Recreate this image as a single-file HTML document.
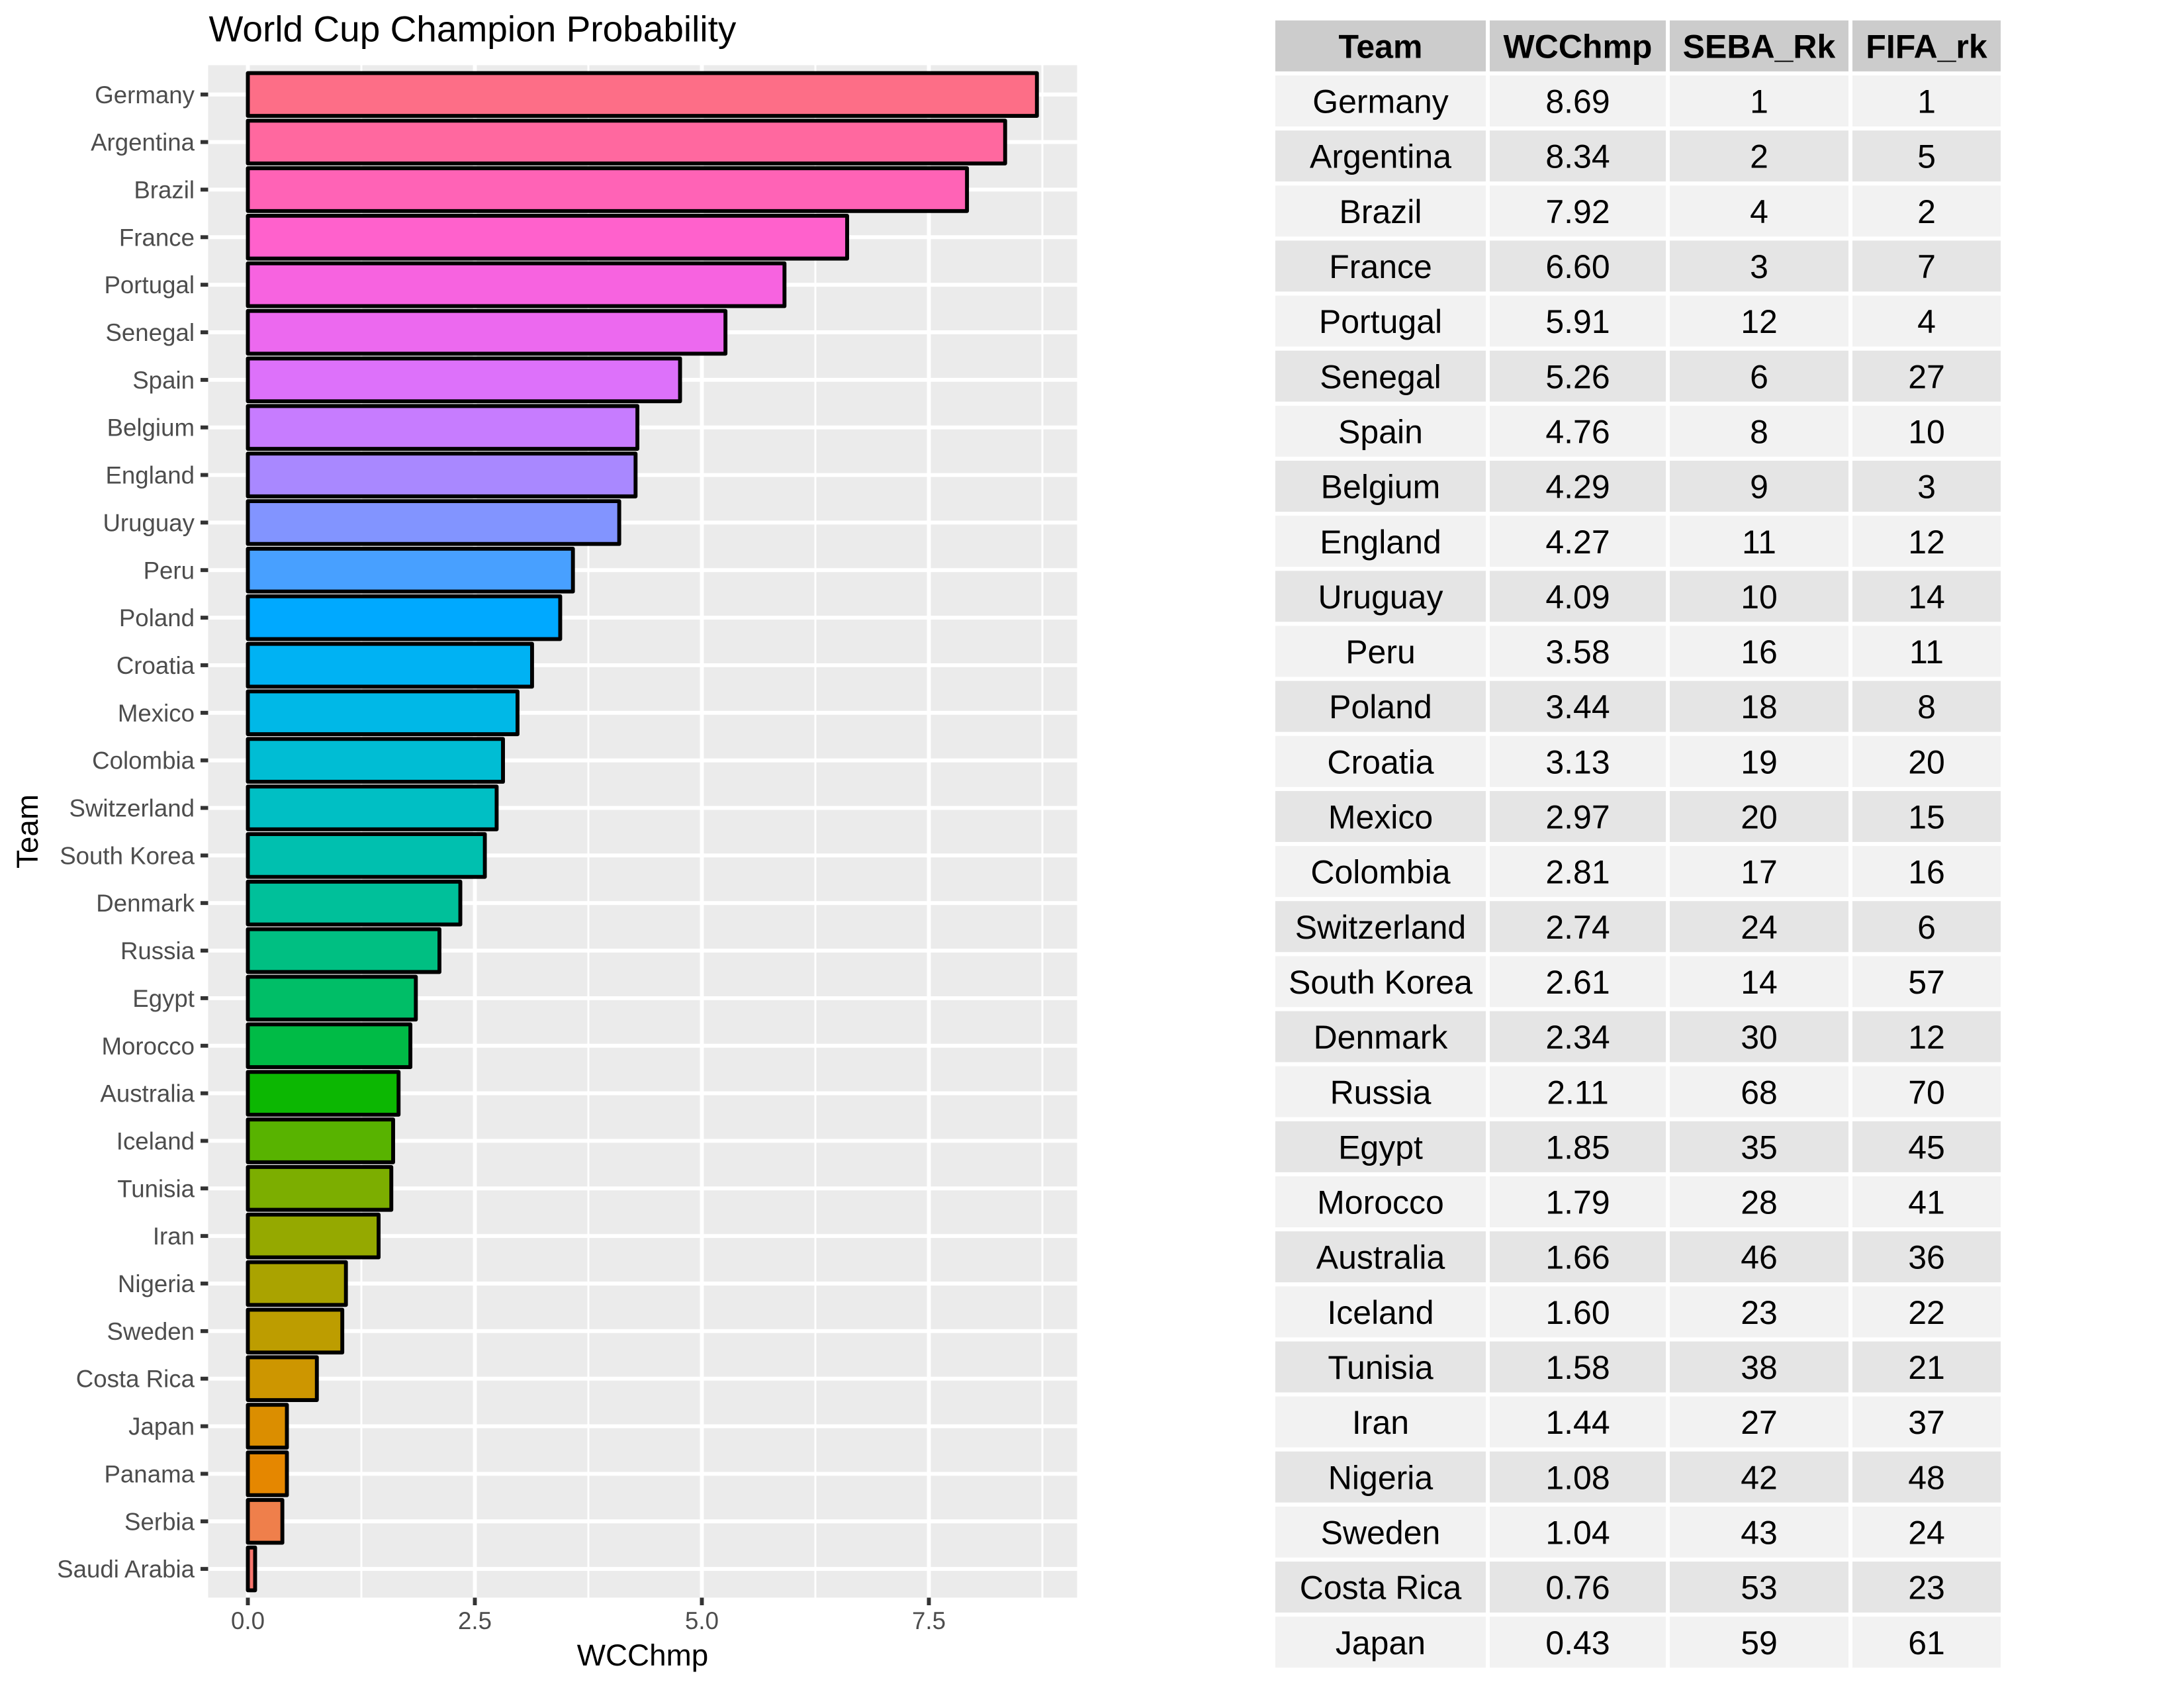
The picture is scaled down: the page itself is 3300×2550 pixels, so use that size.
<!DOCTYPE html>
<html>
<head>
<meta charset="utf-8">
<style>
html,body{margin:0;padding:0;background:#fff;}
svg{display:block;}
text{font-family:"Liberation Sans",Arial,Helvetica,sans-serif;}
</style>
</head>
<body>
<svg xmlns="http://www.w3.org/2000/svg" width="3300" height="2550" viewBox="0 0 3300 2550">
<rect x="0" y="0" width="3300" height="2550" fill="#ffffff"/>

<!-- Title -->
<text x="315.5" y="62.7" font-size="55" fill="#000">World Cup Champion Probability</text>

<!-- Panel -->
<rect x="314.5" y="98.5" width="1313" height="2315" fill="#EBEBEB"/>

<!-- minor vertical gridlines -->
<g stroke="#ffffff" stroke-width="3">
<line x1="546" y1="98.5" x2="546" y2="2413.5"/>
<line x1="889" y1="98.5" x2="889" y2="2413.5"/>
<line x1="1232" y1="98.5" x2="1232" y2="2413.5"/>
<line x1="1575" y1="98.5" x2="1575" y2="2413.5"/>
</g>
<!-- major vertical gridlines -->
<g stroke="#ffffff" stroke-width="5.9">
<line x1="374.5" y1="98.5" x2="374.5" y2="2413.5"/>
<line x1="717.5" y1="98.5" x2="717.5" y2="2413.5"/>
<line x1="1060.5" y1="98.5" x2="1060.5" y2="2413.5"/>
<line x1="1403.5" y1="98.5" x2="1403.5" y2="2413.5"/>
</g>

<!-- horizontal major gridlines -->
<g stroke="#ffffff" stroke-width="5.9">
<line x1="314.5" x2="1627.5" y1="142.75" y2="142.75"/>
<line x1="314.5" x2="1627.5" y1="214.60" y2="214.60"/>
<line x1="314.5" x2="1627.5" y1="286.45" y2="286.45"/>
<line x1="314.5" x2="1627.5" y1="358.30" y2="358.30"/>
<line x1="314.5" x2="1627.5" y1="430.15" y2="430.15"/>
<line x1="314.5" x2="1627.5" y1="502.00" y2="502.00"/>
<line x1="314.5" x2="1627.5" y1="573.85" y2="573.85"/>
<line x1="314.5" x2="1627.5" y1="645.70" y2="645.70"/>
<line x1="314.5" x2="1627.5" y1="717.55" y2="717.55"/>
<line x1="314.5" x2="1627.5" y1="789.40" y2="789.40"/>
<line x1="314.5" x2="1627.5" y1="861.25" y2="861.25"/>
<line x1="314.5" x2="1627.5" y1="933.10" y2="933.10"/>
<line x1="314.5" x2="1627.5" y1="1004.95" y2="1004.95"/>
<line x1="314.5" x2="1627.5" y1="1076.80" y2="1076.80"/>
<line x1="314.5" x2="1627.5" y1="1148.65" y2="1148.65"/>
<line x1="314.5" x2="1627.5" y1="1220.50" y2="1220.50"/>
<line x1="314.5" x2="1627.5" y1="1292.35" y2="1292.35"/>
<line x1="314.5" x2="1627.5" y1="1364.20" y2="1364.20"/>
<line x1="314.5" x2="1627.5" y1="1436.05" y2="1436.05"/>
<line x1="314.5" x2="1627.5" y1="1507.90" y2="1507.90"/>
<line x1="314.5" x2="1627.5" y1="1579.75" y2="1579.75"/>
<line x1="314.5" x2="1627.5" y1="1651.60" y2="1651.60"/>
<line x1="314.5" x2="1627.5" y1="1723.45" y2="1723.45"/>
<line x1="314.5" x2="1627.5" y1="1795.30" y2="1795.30"/>
<line x1="314.5" x2="1627.5" y1="1867.15" y2="1867.15"/>
<line x1="314.5" x2="1627.5" y1="1939.00" y2="1939.00"/>
<line x1="314.5" x2="1627.5" y1="2010.85" y2="2010.85"/>
<line x1="314.5" x2="1627.5" y1="2082.70" y2="2082.70"/>
<line x1="314.5" x2="1627.5" y1="2154.55" y2="2154.55"/>
<line x1="314.5" x2="1627.5" y1="2226.40" y2="2226.40"/>
<line x1="314.5" x2="1627.5" y1="2298.25" y2="2298.25"/>
<line x1="314.5" x2="1627.5" y1="2370.10" y2="2370.10"/>
</g>

<!-- Bars -->
<g stroke="#000" stroke-width="5.9" stroke-linejoin="round">
<rect x="374.5" y="110.42" width="1192.27" height="64.66" fill="#FD6E87"/>
<rect x="374.5" y="182.27" width="1144.25" height="64.66" fill="#FF689F"/>
<rect x="374.5" y="254.12" width="1086.62" height="64.66" fill="#FF63B6"/>
<rect x="374.5" y="325.97" width="905.52" height="64.66" fill="#FF61CC"/>
<rect x="374.5" y="397.82" width="810.85" height="64.66" fill="#F763E0"/>
<rect x="374.5" y="469.67" width="721.67" height="64.66" fill="#EC69EF"/>
<rect x="374.5" y="541.52" width="653.07" height="64.66" fill="#DD71FA"/>
<rect x="374.5" y="613.37" width="588.59" height="64.66" fill="#C77CFF"/>
<rect x="374.5" y="685.22" width="585.84" height="64.66" fill="#A988FF"/>
<rect x="374.5" y="757.07" width="561.15" height="64.66" fill="#8294FF"/>
<rect x="374.5" y="828.92" width="491.18" height="64.66" fill="#48A0FF"/>
<rect x="374.5" y="900.77" width="471.97" height="64.66" fill="#00A9FF"/>
<rect x="374.5" y="972.62" width="429.44" height="64.66" fill="#00B2F3"/>
<rect x="374.5" y="1044.47" width="407.48" height="64.66" fill="#00B8E7"/>
<rect x="374.5" y="1116.32" width="385.53" height="64.66" fill="#00BDD4"/>
<rect x="374.5" y="1188.17" width="375.93" height="64.66" fill="#00BFC4"/>
<rect x="374.5" y="1260.02" width="358.09" height="64.66" fill="#00C0AF"/>
<rect x="374.5" y="1331.87" width="321.05" height="64.66" fill="#00C09A"/>
<rect x="374.5" y="1403.72" width="289.49" height="64.66" fill="#00BF82"/>
<rect x="374.5" y="1475.57" width="253.82" height="64.66" fill="#00BE67"/>
<rect x="374.5" y="1547.42" width="245.59" height="64.66" fill="#00BB46"/>
<rect x="374.5" y="1619.27" width="227.75" height="64.66" fill="#0CB702"/>
<rect x="374.5" y="1691.12" width="219.52" height="64.66" fill="#58B300"/>
<rect x="374.5" y="1762.97" width="216.78" height="64.66" fill="#7CAE00"/>
<rect x="374.5" y="1834.82" width="197.57" height="64.66" fill="#95A900"/>
<rect x="374.5" y="1906.67" width="148.18" height="64.66" fill="#AAA300"/>
<rect x="374.5" y="1978.52" width="142.69" height="64.66" fill="#BD9D00"/>
<rect x="374.5" y="2050.37" width="104.27" height="64.66" fill="#CD9600"/>
<rect x="374.5" y="2122.22" width="59.00" height="64.66" fill="#DB8E00"/>
<rect x="374.5" y="2194.07" width="59.00" height="64.66" fill="#E58700"/>
<rect x="374.5" y="2265.92" width="52.14" height="64.66" fill="#EF7F4B"/>
<rect x="374.5" y="2337.77" width="10.98" height="64.66" fill="#F8766D"/>
</g>

<!-- Y ticks -->
<g stroke="#333333" stroke-width="5.9">
<line x1="303" x2="314.5" y1="142.75" y2="142.75"/>
<line x1="303" x2="314.5" y1="214.60" y2="214.60"/>
<line x1="303" x2="314.5" y1="286.45" y2="286.45"/>
<line x1="303" x2="314.5" y1="358.30" y2="358.30"/>
<line x1="303" x2="314.5" y1="430.15" y2="430.15"/>
<line x1="303" x2="314.5" y1="502.00" y2="502.00"/>
<line x1="303" x2="314.5" y1="573.85" y2="573.85"/>
<line x1="303" x2="314.5" y1="645.70" y2="645.70"/>
<line x1="303" x2="314.5" y1="717.55" y2="717.55"/>
<line x1="303" x2="314.5" y1="789.40" y2="789.40"/>
<line x1="303" x2="314.5" y1="861.25" y2="861.25"/>
<line x1="303" x2="314.5" y1="933.10" y2="933.10"/>
<line x1="303" x2="314.5" y1="1004.95" y2="1004.95"/>
<line x1="303" x2="314.5" y1="1076.80" y2="1076.80"/>
<line x1="303" x2="314.5" y1="1148.65" y2="1148.65"/>
<line x1="303" x2="314.5" y1="1220.50" y2="1220.50"/>
<line x1="303" x2="314.5" y1="1292.35" y2="1292.35"/>
<line x1="303" x2="314.5" y1="1364.20" y2="1364.20"/>
<line x1="303" x2="314.5" y1="1436.05" y2="1436.05"/>
<line x1="303" x2="314.5" y1="1507.90" y2="1507.90"/>
<line x1="303" x2="314.5" y1="1579.75" y2="1579.75"/>
<line x1="303" x2="314.5" y1="1651.60" y2="1651.60"/>
<line x1="303" x2="314.5" y1="1723.45" y2="1723.45"/>
<line x1="303" x2="314.5" y1="1795.30" y2="1795.30"/>
<line x1="303" x2="314.5" y1="1867.15" y2="1867.15"/>
<line x1="303" x2="314.5" y1="1939.00" y2="1939.00"/>
<line x1="303" x2="314.5" y1="2010.85" y2="2010.85"/>
<line x1="303" x2="314.5" y1="2082.70" y2="2082.70"/>
<line x1="303" x2="314.5" y1="2154.55" y2="2154.55"/>
<line x1="303" x2="314.5" y1="2226.40" y2="2226.40"/>
<line x1="303" x2="314.5" y1="2298.25" y2="2298.25"/>
<line x1="303" x2="314.5" y1="2370.10" y2="2370.10"/>
</g>
<!-- X ticks -->
<g stroke="#333333" stroke-width="5.9">
<line x1="374.5" x2="374.5" y1="2413.5" y2="2425"/>
<line x1="717.5" x2="717.5" y1="2413.5" y2="2425"/>
<line x1="1060.5" x2="1060.5" y1="2413.5" y2="2425"/>
<line x1="1403.5" x2="1403.5" y1="2413.5" y2="2425"/>
</g>

<!-- Y labels -->
<g font-size="36.67" fill="#4D4D4D" text-anchor="end">
<text x="294" y="155.75">Germany</text>
<text x="294" y="227.60">Argentina</text>
<text x="294" y="299.45">Brazil</text>
<text x="294" y="371.30">France</text>
<text x="294" y="443.15">Portugal</text>
<text x="294" y="515.00">Senegal</text>
<text x="294" y="586.85">Spain</text>
<text x="294" y="658.70">Belgium</text>
<text x="294" y="730.55">England</text>
<text x="294" y="802.40">Uruguay</text>
<text x="294" y="874.25">Peru</text>
<text x="294" y="946.10">Poland</text>
<text x="294" y="1017.95">Croatia</text>
<text x="294" y="1089.80">Mexico</text>
<text x="294" y="1161.65">Colombia</text>
<text x="294" y="1233.50">Switzerland</text>
<text x="294" y="1305.35">South Korea</text>
<text x="294" y="1377.20">Denmark</text>
<text x="294" y="1449.05">Russia</text>
<text x="294" y="1520.90">Egypt</text>
<text x="294" y="1592.75">Morocco</text>
<text x="294" y="1664.60">Australia</text>
<text x="294" y="1736.45">Iceland</text>
<text x="294" y="1808.30">Tunisia</text>
<text x="294" y="1880.15">Iran</text>
<text x="294" y="1952.00">Nigeria</text>
<text x="294" y="2023.85">Sweden</text>
<text x="294" y="2095.70">Costa Rica</text>
<text x="294" y="2167.55">Japan</text>
<text x="294" y="2239.40">Panama</text>
<text x="294" y="2311.25">Serbia</text>
<text x="294" y="2383.10">Saudi Arabia</text>
</g>

<!-- X labels -->
<g font-size="36.67" fill="#4D4D4D" text-anchor="middle">
<text x="374.5" y="2461">0.0</text>
<text x="717.5" y="2461">2.5</text>
<text x="1060.5" y="2461">5.0</text>
<text x="1403.5" y="2461">7.5</text>
</g>

<!-- Axis titles -->
<text x="971" y="2516" font-size="45.83" fill="#000" text-anchor="middle">WCChmp</text>
<text transform="translate(57,1256) rotate(-90)" font-size="45.83" fill="#000" text-anchor="middle">Team</text>

<!-- Table -->
<g font-size="50" fill="#000" text-anchor="middle">
<g transform="translate(0,30.85)"><rect x="1927" y="0" width="318" height="77" fill="#CCCCCC"/><rect x="2251" y="0" width="266" height="77" fill="#CCCCCC"/><rect x="2523" y="0" width="270" height="77" fill="#CCCCCC"/><rect x="2799" y="0" width="224" height="77" fill="#CCCCCC"/><g font-weight="bold"><text x="2086" y="56.6">Team</text><text x="2384" y="56.6">WCChmp</text><text x="2658" y="56.6">SEBA_Rk</text><text x="2911" y="56.6">FIFA_rk</text></g></g>
<g transform="translate(0,114.00)"><rect x="1927" y="0" width="318" height="77" fill="#F2F2F2"/><rect x="2251" y="0" width="266" height="77" fill="#F2F2F2"/><rect x="2523" y="0" width="270" height="77" fill="#F2F2F2"/><rect x="2799" y="0" width="224" height="77" fill="#F2F2F2"/><text x="2086" y="56.6">Germany</text><text x="2384" y="56.6">8.69</text><text x="2658" y="56.6">1</text><text x="2911" y="56.6">1</text></g>
<g transform="translate(0,197.15)"><rect x="1927" y="0" width="318" height="77" fill="#E5E5E5"/><rect x="2251" y="0" width="266" height="77" fill="#E5E5E5"/><rect x="2523" y="0" width="270" height="77" fill="#E5E5E5"/><rect x="2799" y="0" width="224" height="77" fill="#E5E5E5"/><text x="2086" y="56.6">Argentina</text><text x="2384" y="56.6">8.34</text><text x="2658" y="56.6">2</text><text x="2911" y="56.6">5</text></g>
<g transform="translate(0,280.30)"><rect x="1927" y="0" width="318" height="77" fill="#F2F2F2"/><rect x="2251" y="0" width="266" height="77" fill="#F2F2F2"/><rect x="2523" y="0" width="270" height="77" fill="#F2F2F2"/><rect x="2799" y="0" width="224" height="77" fill="#F2F2F2"/><text x="2086" y="56.6">Brazil</text><text x="2384" y="56.6">7.92</text><text x="2658" y="56.6">4</text><text x="2911" y="56.6">2</text></g>
<g transform="translate(0,363.45)"><rect x="1927" y="0" width="318" height="77" fill="#E5E5E5"/><rect x="2251" y="0" width="266" height="77" fill="#E5E5E5"/><rect x="2523" y="0" width="270" height="77" fill="#E5E5E5"/><rect x="2799" y="0" width="224" height="77" fill="#E5E5E5"/><text x="2086" y="56.6">France</text><text x="2384" y="56.6">6.60</text><text x="2658" y="56.6">3</text><text x="2911" y="56.6">7</text></g>
<g transform="translate(0,446.60)"><rect x="1927" y="0" width="318" height="77" fill="#F2F2F2"/><rect x="2251" y="0" width="266" height="77" fill="#F2F2F2"/><rect x="2523" y="0" width="270" height="77" fill="#F2F2F2"/><rect x="2799" y="0" width="224" height="77" fill="#F2F2F2"/><text x="2086" y="56.6">Portugal</text><text x="2384" y="56.6">5.91</text><text x="2658" y="56.6">12</text><text x="2911" y="56.6">4</text></g>
<g transform="translate(0,529.75)"><rect x="1927" y="0" width="318" height="77" fill="#E5E5E5"/><rect x="2251" y="0" width="266" height="77" fill="#E5E5E5"/><rect x="2523" y="0" width="270" height="77" fill="#E5E5E5"/><rect x="2799" y="0" width="224" height="77" fill="#E5E5E5"/><text x="2086" y="56.6">Senegal</text><text x="2384" y="56.6">5.26</text><text x="2658" y="56.6">6</text><text x="2911" y="56.6">27</text></g>
<g transform="translate(0,612.90)"><rect x="1927" y="0" width="318" height="77" fill="#F2F2F2"/><rect x="2251" y="0" width="266" height="77" fill="#F2F2F2"/><rect x="2523" y="0" width="270" height="77" fill="#F2F2F2"/><rect x="2799" y="0" width="224" height="77" fill="#F2F2F2"/><text x="2086" y="56.6">Spain</text><text x="2384" y="56.6">4.76</text><text x="2658" y="56.6">8</text><text x="2911" y="56.6">10</text></g>
<g transform="translate(0,696.05)"><rect x="1927" y="0" width="318" height="77" fill="#E5E5E5"/><rect x="2251" y="0" width="266" height="77" fill="#E5E5E5"/><rect x="2523" y="0" width="270" height="77" fill="#E5E5E5"/><rect x="2799" y="0" width="224" height="77" fill="#E5E5E5"/><text x="2086" y="56.6">Belgium</text><text x="2384" y="56.6">4.29</text><text x="2658" y="56.6">9</text><text x="2911" y="56.6">3</text></g>
<g transform="translate(0,779.20)"><rect x="1927" y="0" width="318" height="77" fill="#F2F2F2"/><rect x="2251" y="0" width="266" height="77" fill="#F2F2F2"/><rect x="2523" y="0" width="270" height="77" fill="#F2F2F2"/><rect x="2799" y="0" width="224" height="77" fill="#F2F2F2"/><text x="2086" y="56.6">England</text><text x="2384" y="56.6">4.27</text><text x="2658" y="56.6">11</text><text x="2911" y="56.6">12</text></g>
<g transform="translate(0,862.35)"><rect x="1927" y="0" width="318" height="77" fill="#E5E5E5"/><rect x="2251" y="0" width="266" height="77" fill="#E5E5E5"/><rect x="2523" y="0" width="270" height="77" fill="#E5E5E5"/><rect x="2799" y="0" width="224" height="77" fill="#E5E5E5"/><text x="2086" y="56.6">Uruguay</text><text x="2384" y="56.6">4.09</text><text x="2658" y="56.6">10</text><text x="2911" y="56.6">14</text></g>
<g transform="translate(0,945.50)"><rect x="1927" y="0" width="318" height="77" fill="#F2F2F2"/><rect x="2251" y="0" width="266" height="77" fill="#F2F2F2"/><rect x="2523" y="0" width="270" height="77" fill="#F2F2F2"/><rect x="2799" y="0" width="224" height="77" fill="#F2F2F2"/><text x="2086" y="56.6">Peru</text><text x="2384" y="56.6">3.58</text><text x="2658" y="56.6">16</text><text x="2911" y="56.6">11</text></g>
<g transform="translate(0,1028.65)"><rect x="1927" y="0" width="318" height="77" fill="#E5E5E5"/><rect x="2251" y="0" width="266" height="77" fill="#E5E5E5"/><rect x="2523" y="0" width="270" height="77" fill="#E5E5E5"/><rect x="2799" y="0" width="224" height="77" fill="#E5E5E5"/><text x="2086" y="56.6">Poland</text><text x="2384" y="56.6">3.44</text><text x="2658" y="56.6">18</text><text x="2911" y="56.6">8</text></g>
<g transform="translate(0,1111.80)"><rect x="1927" y="0" width="318" height="77" fill="#F2F2F2"/><rect x="2251" y="0" width="266" height="77" fill="#F2F2F2"/><rect x="2523" y="0" width="270" height="77" fill="#F2F2F2"/><rect x="2799" y="0" width="224" height="77" fill="#F2F2F2"/><text x="2086" y="56.6">Croatia</text><text x="2384" y="56.6">3.13</text><text x="2658" y="56.6">19</text><text x="2911" y="56.6">20</text></g>
<g transform="translate(0,1194.95)"><rect x="1927" y="0" width="318" height="77" fill="#E5E5E5"/><rect x="2251" y="0" width="266" height="77" fill="#E5E5E5"/><rect x="2523" y="0" width="270" height="77" fill="#E5E5E5"/><rect x="2799" y="0" width="224" height="77" fill="#E5E5E5"/><text x="2086" y="56.6">Mexico</text><text x="2384" y="56.6">2.97</text><text x="2658" y="56.6">20</text><text x="2911" y="56.6">15</text></g>
<g transform="translate(0,1278.10)"><rect x="1927" y="0" width="318" height="77" fill="#F2F2F2"/><rect x="2251" y="0" width="266" height="77" fill="#F2F2F2"/><rect x="2523" y="0" width="270" height="77" fill="#F2F2F2"/><rect x="2799" y="0" width="224" height="77" fill="#F2F2F2"/><text x="2086" y="56.6">Colombia</text><text x="2384" y="56.6">2.81</text><text x="2658" y="56.6">17</text><text x="2911" y="56.6">16</text></g>
<g transform="translate(0,1361.25)"><rect x="1927" y="0" width="318" height="77" fill="#E5E5E5"/><rect x="2251" y="0" width="266" height="77" fill="#E5E5E5"/><rect x="2523" y="0" width="270" height="77" fill="#E5E5E5"/><rect x="2799" y="0" width="224" height="77" fill="#E5E5E5"/><text x="2086" y="56.6">Switzerland</text><text x="2384" y="56.6">2.74</text><text x="2658" y="56.6">24</text><text x="2911" y="56.6">6</text></g>
<g transform="translate(0,1444.40)"><rect x="1927" y="0" width="318" height="77" fill="#F2F2F2"/><rect x="2251" y="0" width="266" height="77" fill="#F2F2F2"/><rect x="2523" y="0" width="270" height="77" fill="#F2F2F2"/><rect x="2799" y="0" width="224" height="77" fill="#F2F2F2"/><text x="2086" y="56.6">South Korea</text><text x="2384" y="56.6">2.61</text><text x="2658" y="56.6">14</text><text x="2911" y="56.6">57</text></g>
<g transform="translate(0,1527.55)"><rect x="1927" y="0" width="318" height="77" fill="#E5E5E5"/><rect x="2251" y="0" width="266" height="77" fill="#E5E5E5"/><rect x="2523" y="0" width="270" height="77" fill="#E5E5E5"/><rect x="2799" y="0" width="224" height="77" fill="#E5E5E5"/><text x="2086" y="56.6">Denmark</text><text x="2384" y="56.6">2.34</text><text x="2658" y="56.6">30</text><text x="2911" y="56.6">12</text></g>
<g transform="translate(0,1610.70)"><rect x="1927" y="0" width="318" height="77" fill="#F2F2F2"/><rect x="2251" y="0" width="266" height="77" fill="#F2F2F2"/><rect x="2523" y="0" width="270" height="77" fill="#F2F2F2"/><rect x="2799" y="0" width="224" height="77" fill="#F2F2F2"/><text x="2086" y="56.6">Russia</text><text x="2384" y="56.6">2.11</text><text x="2658" y="56.6">68</text><text x="2911" y="56.6">70</text></g>
<g transform="translate(0,1693.85)"><rect x="1927" y="0" width="318" height="77" fill="#E5E5E5"/><rect x="2251" y="0" width="266" height="77" fill="#E5E5E5"/><rect x="2523" y="0" width="270" height="77" fill="#E5E5E5"/><rect x="2799" y="0" width="224" height="77" fill="#E5E5E5"/><text x="2086" y="56.6">Egypt</text><text x="2384" y="56.6">1.85</text><text x="2658" y="56.6">35</text><text x="2911" y="56.6">45</text></g>
<g transform="translate(0,1777.00)"><rect x="1927" y="0" width="318" height="77" fill="#F2F2F2"/><rect x="2251" y="0" width="266" height="77" fill="#F2F2F2"/><rect x="2523" y="0" width="270" height="77" fill="#F2F2F2"/><rect x="2799" y="0" width="224" height="77" fill="#F2F2F2"/><text x="2086" y="56.6">Morocco</text><text x="2384" y="56.6">1.79</text><text x="2658" y="56.6">28</text><text x="2911" y="56.6">41</text></g>
<g transform="translate(0,1860.15)"><rect x="1927" y="0" width="318" height="77" fill="#E5E5E5"/><rect x="2251" y="0" width="266" height="77" fill="#E5E5E5"/><rect x="2523" y="0" width="270" height="77" fill="#E5E5E5"/><rect x="2799" y="0" width="224" height="77" fill="#E5E5E5"/><text x="2086" y="56.6">Australia</text><text x="2384" y="56.6">1.66</text><text x="2658" y="56.6">46</text><text x="2911" y="56.6">36</text></g>
<g transform="translate(0,1943.30)"><rect x="1927" y="0" width="318" height="77" fill="#F2F2F2"/><rect x="2251" y="0" width="266" height="77" fill="#F2F2F2"/><rect x="2523" y="0" width="270" height="77" fill="#F2F2F2"/><rect x="2799" y="0" width="224" height="77" fill="#F2F2F2"/><text x="2086" y="56.6">Iceland</text><text x="2384" y="56.6">1.60</text><text x="2658" y="56.6">23</text><text x="2911" y="56.6">22</text></g>
<g transform="translate(0,2026.45)"><rect x="1927" y="0" width="318" height="77" fill="#E5E5E5"/><rect x="2251" y="0" width="266" height="77" fill="#E5E5E5"/><rect x="2523" y="0" width="270" height="77" fill="#E5E5E5"/><rect x="2799" y="0" width="224" height="77" fill="#E5E5E5"/><text x="2086" y="56.6">Tunisia</text><text x="2384" y="56.6">1.58</text><text x="2658" y="56.6">38</text><text x="2911" y="56.6">21</text></g>
<g transform="translate(0,2109.60)"><rect x="1927" y="0" width="318" height="77" fill="#F2F2F2"/><rect x="2251" y="0" width="266" height="77" fill="#F2F2F2"/><rect x="2523" y="0" width="270" height="77" fill="#F2F2F2"/><rect x="2799" y="0" width="224" height="77" fill="#F2F2F2"/><text x="2086" y="56.6">Iran</text><text x="2384" y="56.6">1.44</text><text x="2658" y="56.6">27</text><text x="2911" y="56.6">37</text></g>
<g transform="translate(0,2192.75)"><rect x="1927" y="0" width="318" height="77" fill="#E5E5E5"/><rect x="2251" y="0" width="266" height="77" fill="#E5E5E5"/><rect x="2523" y="0" width="270" height="77" fill="#E5E5E5"/><rect x="2799" y="0" width="224" height="77" fill="#E5E5E5"/><text x="2086" y="56.6">Nigeria</text><text x="2384" y="56.6">1.08</text><text x="2658" y="56.6">42</text><text x="2911" y="56.6">48</text></g>
<g transform="translate(0,2275.90)"><rect x="1927" y="0" width="318" height="77" fill="#F2F2F2"/><rect x="2251" y="0" width="266" height="77" fill="#F2F2F2"/><rect x="2523" y="0" width="270" height="77" fill="#F2F2F2"/><rect x="2799" y="0" width="224" height="77" fill="#F2F2F2"/><text x="2086" y="56.6">Sweden</text><text x="2384" y="56.6">1.04</text><text x="2658" y="56.6">43</text><text x="2911" y="56.6">24</text></g>
<g transform="translate(0,2359.05)"><rect x="1927" y="0" width="318" height="77" fill="#E5E5E5"/><rect x="2251" y="0" width="266" height="77" fill="#E5E5E5"/><rect x="2523" y="0" width="270" height="77" fill="#E5E5E5"/><rect x="2799" y="0" width="224" height="77" fill="#E5E5E5"/><text x="2086" y="56.6">Costa Rica</text><text x="2384" y="56.6">0.76</text><text x="2658" y="56.6">53</text><text x="2911" y="56.6">23</text></g>
<g transform="translate(0,2442.20)"><rect x="1927" y="0" width="318" height="77" fill="#F2F2F2"/><rect x="2251" y="0" width="266" height="77" fill="#F2F2F2"/><rect x="2523" y="0" width="270" height="77" fill="#F2F2F2"/><rect x="2799" y="0" width="224" height="77" fill="#F2F2F2"/><text x="2086" y="56.6">Japan</text><text x="2384" y="56.6">0.43</text><text x="2658" y="56.6">59</text><text x="2911" y="56.6">61</text></g>
</g>
</svg>
</body>
</html>
